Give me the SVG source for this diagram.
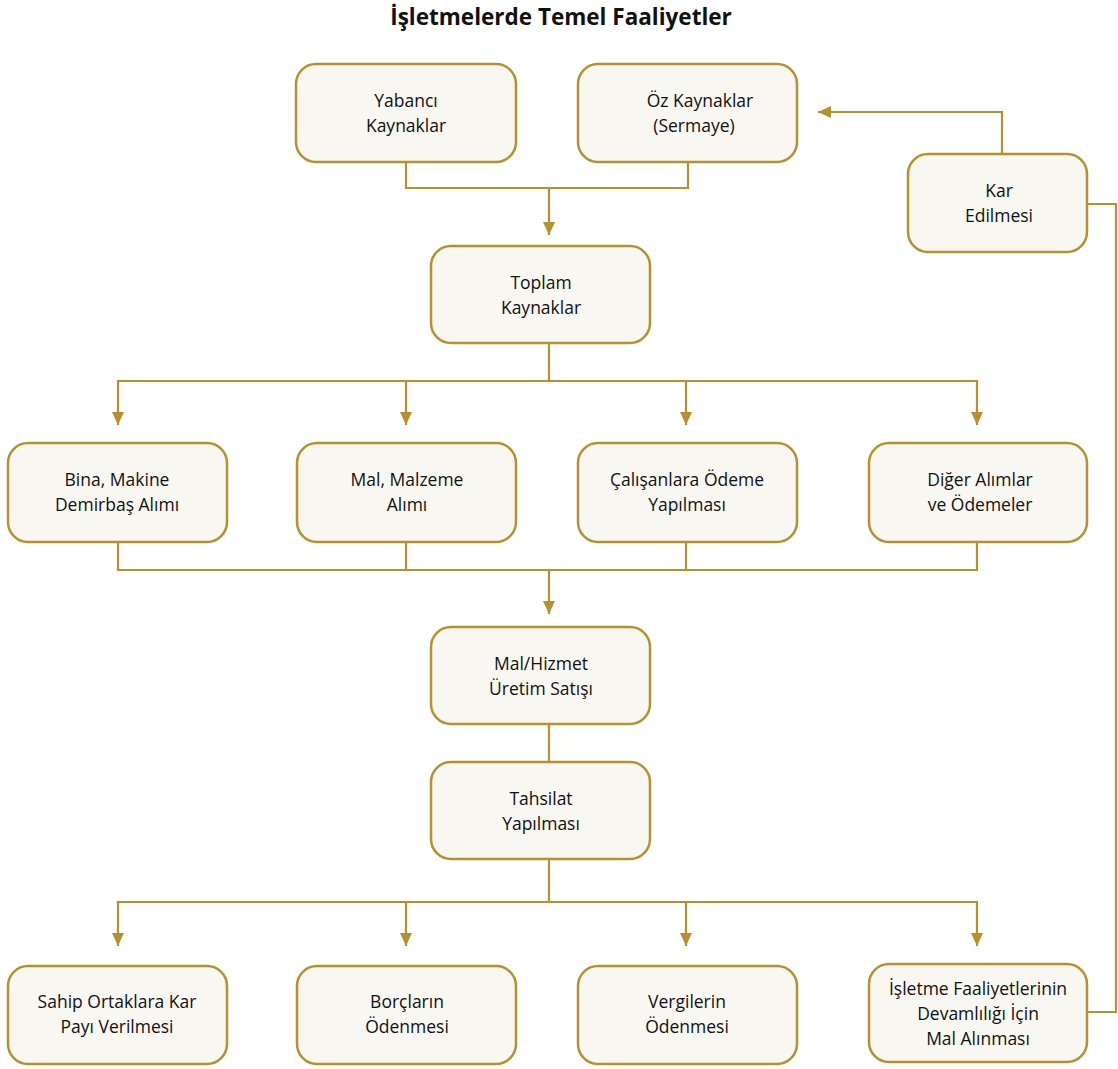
<svg xmlns="http://www.w3.org/2000/svg" width="1118" height="1069" viewBox="0 0 1118 1069">
<style>
.box{fill:#f9f7f1;stroke:#b8912f;stroke-width:2.5}
.ln{fill:none;stroke:#b8912f;stroke-width:2.2}
.t{font-family:"Open Sans","Noto Sans",sans-serif;font-size:17.5px;fill:#111;text-anchor:middle}
.title{font-family:"Open Sans","Noto Sans",sans-serif;font-size:22.5px;font-weight:bold;fill:#111;text-anchor:middle}
</style>
<defs>
<marker id="ah" markerUnits="userSpaceOnUse" markerWidth="13" markerHeight="12" viewBox="0 0 13 12" refX="13" refY="6" orient="auto">
<path d="M0,0 L13,6 L0,12 z" fill="#b8912f"/>
</marker>
</defs>
<rect width="1118" height="1069" fill="#ffffff"/>
<text class="title" x="561" y="25">İşletmelerde Temel Faaliyetler</text>

<g id="connectors">
<path class="ln" d="M406,162 V188 H688 V162"/>
<path class="ln" d="M549,188 V235" marker-end="url(#ah)"/>
<path class="ln" d="M1002,154 V112 H818" marker-end="url(#ah)"/>
<path class="ln" d="M1087,204 H1116 V1012 H1087"/>
<path class="ln" d="M549,343 V381"/>
<path class="ln" d="M549,381 H118 V425" marker-end="url(#ah)"/>
<path class="ln" d="M406,381 V425" marker-end="url(#ah)"/>
<path class="ln" d="M549,381 H977 V425" marker-end="url(#ah)"/>
<path class="ln" d="M686,381 V425" marker-end="url(#ah)"/>
<path class="ln" d="M118,542 V570 H977 V542"/>
<path class="ln" d="M406,542 V570"/>
<path class="ln" d="M686,542 V570"/>
<path class="ln" d="M549,570 V614" marker-end="url(#ah)"/>
<path class="ln" d="M549,724 V762"/>
<path class="ln" d="M549,859 V902"/>
<path class="ln" d="M549,902 H118 V946" marker-end="url(#ah)"/>
<path class="ln" d="M406,902 V946" marker-end="url(#ah)"/>
<path class="ln" d="M549,902 H977 V946" marker-end="url(#ah)"/>
<path class="ln" d="M686,902 V946" marker-end="url(#ah)"/>
</g>

<g id="yabanci"><rect class="box" x="296" y="64" width="220" height="98" rx="20"/>
<text class="t" x="406" y="107">Yabancı</text><text class="t" x="406" y="132">Kaynaklar</text></g>
<g id="oz"><rect class="box" x="578" y="64" width="219" height="98" rx="20"/>
<text class="t" x="700" y="107">Öz Kaynaklar</text><text class="t" x="694" y="132">(Sermaye)</text></g>
<g id="kar"><rect class="box" x="908" y="154" width="179" height="98" rx="20"/>
<text class="t" x="999" y="197">Kar</text><text class="t" x="999" y="222">Edilmesi</text></g>
<g id="toplam"><rect class="box" x="431" y="246" width="219" height="97" rx="20"/>
<text class="t" x="541" y="289">Toplam</text><text class="t" x="541" y="314">Kaynaklar</text></g>

<g id="bina"><rect class="box" x="8" y="443" width="219" height="99" rx="20"/>
<text class="t" x="117" y="486">Bina, Makine</text><text class="t" x="117" y="511">Demirbaş Alımı</text></g>
<g id="mal"><rect class="box" x="297" y="443" width="219" height="99" rx="20"/>
<text class="t" x="407" y="486">Mal, Malzeme</text><text class="t" x="407" y="511">Alımı</text></g>
<g id="calisan"><rect class="box" x="578" y="443" width="219" height="99" rx="20"/>
<text class="t" x="687" y="486">Çalışanlara Ödeme</text><text class="t" x="687" y="511">Yapılması</text></g>
<g id="diger"><rect class="box" x="869" y="443" width="218" height="99" rx="20"/>
<text class="t" x="980" y="486">Diğer Alımlar</text><text class="t" x="980" y="511">ve Ödemeler</text></g>

<g id="malhizmet"><rect class="box" x="431" y="627" width="219" height="97" rx="20"/>
<text class="t" x="541" y="670">Mal/Hizmet</text><text class="t" x="541" y="695">Üretim Satışı</text></g>
<g id="tahsilat"><rect class="box" x="431" y="762" width="219" height="97" rx="20"/>
<text class="t" x="541" y="805">Tahsilat</text><text class="t" x="541" y="830">Yapılması</text></g>

<g id="sahip"><rect class="box" x="8" y="966" width="219" height="98" rx="20"/>
<text class="t" x="117" y="1008">Sahip Ortaklara Kar</text><text class="t" x="117" y="1033">Payı Verilmesi</text></g>
<g id="borclar"><rect class="box" x="297" y="966" width="219" height="98" rx="20"/>
<text class="t" x="407" y="1008">Borçların</text><text class="t" x="407" y="1033">Ödenmesi</text></g>
<g id="vergiler"><rect class="box" x="578" y="966" width="219" height="98" rx="20"/>
<text class="t" x="687" y="1008">Vergilerin</text><text class="t" x="687" y="1033">Ödenmesi</text></g>
<g id="isletme"><rect class="box" x="869" y="964" width="218" height="98" rx="20"/>
<text class="t" x="978" y="995">İşletme Faaliyetlerinin</text><text class="t" x="978" y="1020">Devamlılığı İçin</text><text class="t" x="978" y="1045">Mal Alınması</text></g>
</svg>
